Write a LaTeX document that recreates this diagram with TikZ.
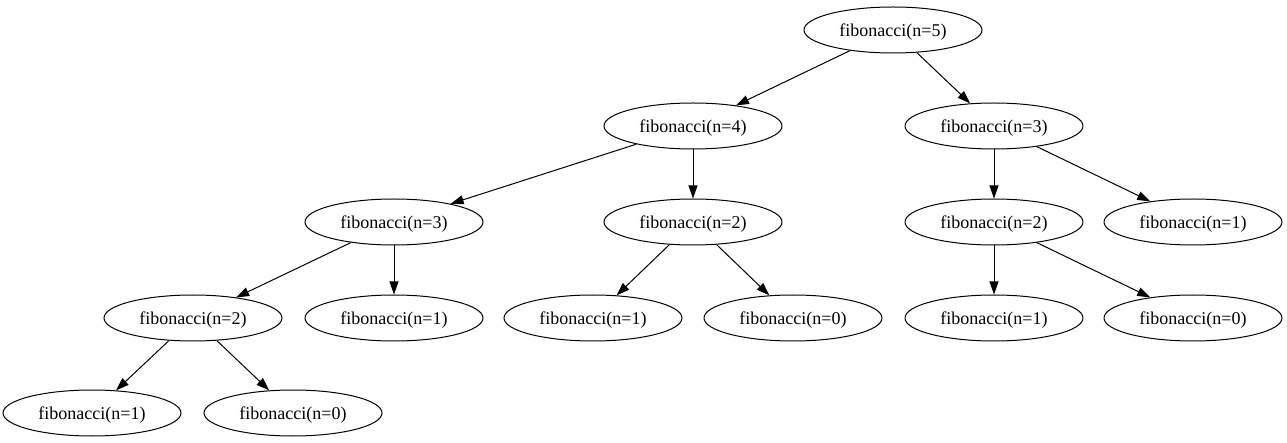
\documentclass[tikz,border=0pt]{standalone}
\usepackage{fontspec}
\setmainfont{Liberation Serif}
\usetikzlibrary{shapes.geometric, arrows.meta}

\begin{document}
\begin{tikzpicture}[x=1pt, y=-1pt,
    call/.style={ellipse,
      draw,
      line width=1pt,
      minimum width=178pt,
      minimum height=46pt,
      inner sep=0pt,
      text height=16pt,
      text depth=3.5pt,
      font=\fontsize{18}{20}\selectfont},
    edge/.style={line width=1pt,
      -{Triangle[length=13pt, width=9pt]}}]
  \useasboundingbox (0,0) rectangle (1287,443);

  % LEVEL 0
  \node [call] (fiba) at (893,30) {fibonacci(n=5)};

  % LEVEL 1
  \node [call] (fibb) at (693,126) {fibonacci(n=4)};
  \node [call] (fibc) at (994,126) {fibonacci(n=3)};

  % LEVEL 2
  \node [call] (fibd) at (394,222) {fibonacci(n=3)};
  \node [call] (fibe) at (693,222) {fibonacci(n=2)};
  \node [call] (fibf) at (994,222) {fibonacci(n=2)};
  \node [call] (fibg) at (1193,222) {fibonacci(n=1)};

  % LEVEL 3
  \node [call] (fibh) at (193,318) {fibonacci(n=2)};
  \node [call] (fibi) at (394,318) {fibonacci(n=1)};
  \node [call] (fibj) at (593,318) {fibonacci(n=1)};
  \node [call] (fibk) at (793,318) {fibonacci(n=0)};
  \node [call] (fibl) at (994,318) {fibonacci(n=1)};
  \node [call] (fibm) at (1193,318) {fibonacci(n=0)};

  % LEVEL 4
  \node [call] (fibn) at (92,413) {fibonacci(n=1)};
  \node [call] (fibo) at (293,413) {fibonacci(n=0)};

  % CALLS
  \foreach \from/\to in {fiba/fibb, fiba/fibc,
      fibb/fibd, fibb/fibe, fibc/fibf, fibc/fibg,
      fibd/fibh, fibd/fibi, fibe/fibj, fibe/fibk,
      fibf/fibl, fibf/fibm, fibh/fibn, fibh/fibo}
    \draw[edge] (\from) -- (\to);

\end{tikzpicture}
\end{document}
